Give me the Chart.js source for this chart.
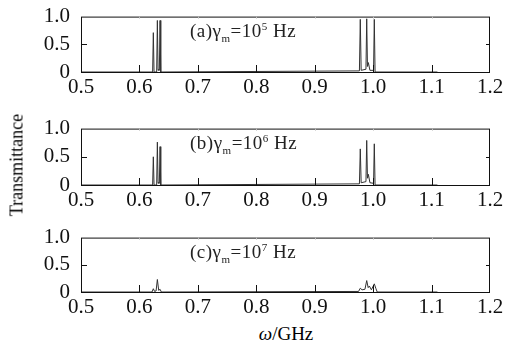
<!DOCTYPE html>
<html lang="en">
<head>
  <meta charset="UTF-8">
  <title>Transmittance spectra</title>
  <script src="https://cdn.jsdelivr.net/npm/chart.js"></script>
  <style>
    body {
      margin: 0;
      background-color: white;
      font-family: "Liberation Serif", "DejaVu Serif", serif;
    }
    #wrap {
      position: relative;
      width: 506px;
      height: 348px;
      overflow: hidden;
    }
    canvas {
      position: absolute;
      left: 0;
    }
    .note {
      position: absolute;
      font-size: 19px;
      letter-spacing: 0.5px;
      color: #222;
      white-space: nowrap;
    }
    .note sub, .note sup { font-size: 11px; }
    #ytitle {
      position: absolute;
      left: 17px;
      top: 165px;
      font-size: 18px;
      transform: translate(-50%, -50%) rotate(-90deg);
      white-space: nowrap;
    }
    #xtitle {
      position: absolute;
      left: 286px;
      top: 334px;
      font-size: 19px;
      transform: translate(-50%, -50%);
      white-space: nowrap;
    }
  </style>
</head>
<body>
  <div id="wrap">
    <canvas id="chartA"></canvas>
    <canvas id="chartB"></canvas>
    <canvas id="chartC"></canvas>
    <div class="note" id="noteA">(a)γ<sub>m</sub>=10<sup>5</sup> Hz</div>
    <div class="note" id="noteB">(b)γ<sub>m</sub>=10<sup>6</sup> Hz</div>
    <div class="note" id="noteC">(c)γ<sub>m</sub>=10<sup>7</sup> Hz</div>
    <div id="ytitle">Transmittance</div>
    <div id="xtitle"><i>ω</i>/GHz</div>
  </div>
  <script>
    // tick labels
    const xTicks = [0.5, 0.6, 0.7, 0.8, 0.9, 1.0, 1.1, 1.2];
    const yTicks = [0, 0.5, 1.0];

    // panel (a) gamma_m = 1e5 Hz
    const omegaA = [0.5, 0.6226, 0.6238, 0.6250, 0.6295, 0.6307, 0.6319, 0.6330, 0.6341, 0.6353, 0.6365,
                    0.9765, 0.978, 0.9795, 0.9877, 0.989, 0.9903, 0.9918, 0.9945, 1.0007, 1.002, 1.0033, 1.11];
    const transA = [0, 0, 0.71, 0, 0, 0.93, 0.03, 0.05, 0.03, 0.93, 0,
                    0.02, 0.95, 0.03, 0.05, 0.96, 0.1, 0.17, 0.03, 0.03, 0.95, 0, 0];

    // panel (b) gamma_m = 1e6 Hz
    const omegaB = [0.5, 0.6226, 0.6238, 0.6250, 0.6295, 0.6307, 0.6319, 0.6330, 0.6341, 0.6353, 0.6365,
                    0.9765, 0.978, 0.9795, 0.9877, 0.989, 0.9903, 0.9918, 0.9945, 1.0007, 1.002, 1.0033, 1.11];
    const transB = [0, 0, 0.5, 0, 0, 0.76, 0.03, 0.05, 0.03, 0.68, 0,
                    0.02, 0.64, 0.04, 0.06, 0.79, 0.12, 0.19, 0.04, 0.03, 0.73, 0, 0];

    // panel (c) gamma_m = 1e7 Hz
    const omegaC = [0.5, 0.6215, 0.6238, 0.626, 0.6285, 0.6307, 0.633, 0.6353, 0.6375,
                    0.975, 0.978, 0.981, 0.986, 0.989, 0.9915, 0.9935, 0.997, 1.002, 1.0045, 1.007, 1.11];
    const transC = [0, 0, 0.06, 0.01, 0.02, 0.23, 0.03, 0.05, 0,
                    0.01, 0.07, 0.04, 0.05, 0.21, 0.08, 0.11, 0.04, 0.15, 0.07, 0, 0];

    // chart area edges in page pixels
    const plotLeft = 81, plotRight = 490;
    const panels = [
      { id: 'chartA', note: 'noteA', omega: omegaA, trans: transA, top: 13, bottom: 72 },
      { id: 'chartB', note: 'noteB', omega: omegaB, trans: transB, top: 125, bottom: 185 },
      { id: 'chartC', note: 'noteC', omega: omegaC, trans: transC, top: 234, bottom: 292 }
    ];
    const padTop = 12, axisBelow = 24;

    // box around the plot and short inward tick marks
    const framePlugin = {
      id: 'frame',
      afterDraw(chart) {
        const ctx = chart.ctx, a = chart.chartArea;
        const xs = chart.scales.x, ys = chart.scales.y;
        ctx.save();
        ctx.strokeStyle = '#111';
        ctx.lineWidth = 1;
        ctx.strokeRect(a.left + 0.5, a.top + 0.5, a.right - a.left - 1, a.bottom - a.top);
        ctx.beginPath();
        xTicks.slice(1, -1).forEach(v => {
          const px = Math.round(xs.getPixelForValue(v)) + 0.5;
          ctx.moveTo(px, a.bottom);
          ctx.lineTo(px, a.bottom - 7);
        });
        const py = Math.round(ys.getPixelForValue(0.5)) + 0.5;
        ctx.moveTo(a.left, py); ctx.lineTo(a.left + 6, py);
        ctx.moveTo(a.right, py); ctx.lineTo(a.right - 4, py);
        ctx.stroke();
        ctx.strokeStyle = '#bbb';
        ctx.beginPath();
        xTicks.slice(1, -1).forEach(v => {
          const px = Math.round(xs.getPixelForValue(v)) + 0.5;
          ctx.moveTo(px, a.top);
          ctx.lineTo(px, a.top + 2);
        });
        ctx.stroke();
        ctx.restore();
      }
    };

    const tickFont = { family: '"Liberation Serif", serif', size: 21 };

    panels.forEach(p => {
      const canvas = document.getElementById(p.id);
      const h = (p.bottom - p.top) + padTop + axisBelow;
      canvas.width = 506;
      canvas.height = h;
      canvas.style.width = '506px';
      canvas.style.height = h + 'px';
      canvas.style.top = (p.top - padTop) + 'px';

      const note = document.getElementById(p.note);
      note.style.left = '190px';
      note.style.top = (p.top + 7) + 'px';

      new Chart(canvas, {
        type: 'line',
        data: {
          datasets: [{
            data: p.omega.map((w, i) => ({ x: w, y: p.trans[i] })),
            borderColor: '#333',
            borderWidth: 1,
            pointRadius: 0,
            tension: 0,
            fill: false
          }]
        },
        options: {
          responsive: false,
          animation: false,
          plugins: { legend: { display: false }, tooltip: { enabled: false } },
          layout: { padding: { top: padTop, right: 506 - plotRight, left: 0, bottom: 0 } },
          scales: {
            x: {
              type: 'linear',
              min: 0.5,
              max: 1.2,
              afterBuildTicks: s => { s.ticks = xTicks.map(v => ({ value: v })); },
              afterFit: s => { s.height = axisBelow; },
              grid: { display: false },
              border: { display: false },
              ticks: {
                color: '#111',
                font: tickFont,
                padding: -5,
                maxRotation: 0,
                autoSkip: false,
                callback: v => v.toFixed(1)
              }
            },
            y: {
              min: 0,
              max: 1,
              afterBuildTicks: s => { s.ticks = yTicks.map(v => ({ value: v })); },
              afterFit: s => { s.width = plotLeft; },
              grid: { display: false },
              border: { display: false },
              ticks: {
                color: '#111',
                font: tickFont,
                padding: 3,
                autoSkip: false,
                callback: v => v === 0 ? '0' : v.toFixed(1)
              }
            }
          }
        },
        plugins: [framePlugin]
      });
    });
  </script>
</body>
</html>
